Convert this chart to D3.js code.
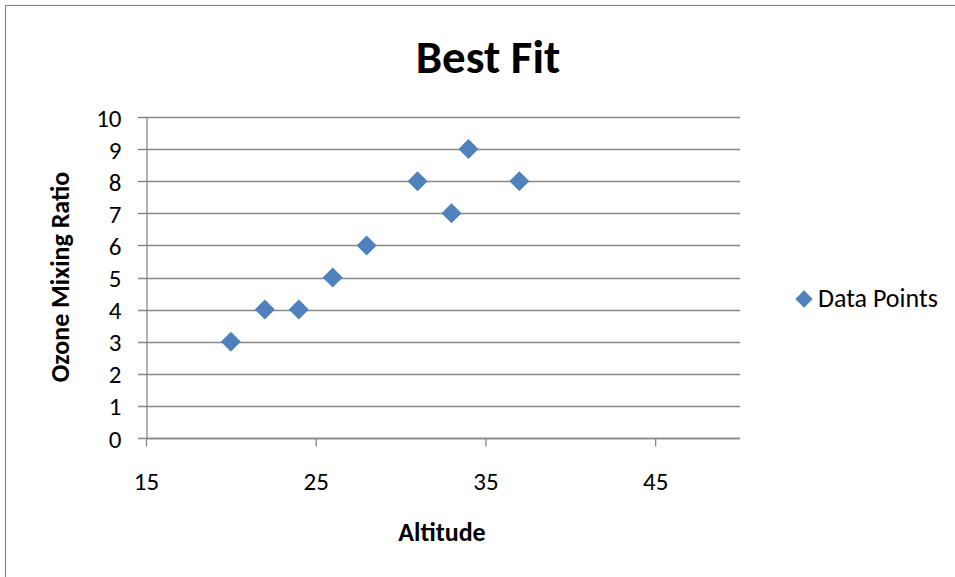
<!DOCTYPE html>
<html><head><meta charset="utf-8">
<script src="https://cdn.jsdelivr.net/npm/d3@7"></script>
<style>body{margin:0;background:#fff}svg{display:block}text{font-family:Carlito,"Open Sans","Noto Sans",sans-serif}</style>
</head><body><svg id="c" width="955" height="577"></svg>
<script>
const altitude = [20, 22, 24, 26, 28, 31, 33, 34, 37];
const ozone = [3, 4, 4, 5, 6, 8, 7, 9, 8];
const xTicks = [15, 25, 35, 45];
const yTicks = [0,1,2,3,4,5,6,7,8,9,10];
const title = "Best Fit", xLabel = "Altitude", yLabel = "Ozone Mixing Ratio", seriesName = "Data Points";

const svg = d3.select("#c");
const grid = "#878787", col = "#4F81BD";
svg.append("rect").attr("x",5.5).attr("y",5.5).attr("width",960).attr("height",600).attr("fill","#fff").attr("stroke","#888").attr("stroke-width",1.2);

const x = d3.scaleLinear().domain([15,50]).range([146,740]);
const y = d3.scaleLinear().domain([0,10]).range([438,117]);

// gridlines
svg.append("g").selectAll("line").data(yTicks).join("line")
  .attr("x1",138).attr("x2",740).attr("y1",d=>Math.round(y(d))+0.5).attr("y2",d=>Math.round(y(d))+0.5)
  .attr("stroke",grid).attr("stroke-width",1.3);

const yAx = svg.append("g").attr("transform","translate(146.5,0)")
  .call(d3.axisLeft(y).tickValues(yTicks).tickSize(0).tickPadding(25));
yAx.select(".domain").attr("stroke",grid).attr("stroke-width",1.3);
yAx.selectAll("text").attr("font-size",25).attr("fill","#000").attr("dy","0.36em");

const xAx = svg.append("g").attr("transform","translate(0,"+(Math.round(y(0))+0.5)+")")
  .call(d3.axisBottom(x).tickValues(xTicks).tickSize(8).tickPadding(26));
xAx.select(".domain").attr("stroke",grid).attr("stroke-width",1.3).attr("d","M146,0H740");
xAx.selectAll("line").attr("stroke",grid).attr("stroke-width",1.3);
xAx.selectAll("text").attr("font-size",25).attr("fill","#000");

const diamond = d3.symbol().type(d3.symbolSquare).size(200);
svg.append("g").selectAll("path").data(altitude.map((a,i)=>[a,ozone[i]])).join("path")
  .attr("d",diamond).attr("fill",col)
  .attr("transform",d=>`translate(${x(d[0])},${y(d[1])}) rotate(45)`);

svg.append("text").attr("x",488).attr("y",73).attr("text-anchor","middle")
  .attr("font-size",47).attr("font-weight","bold").text(title);
svg.append("text").attr("x",442).attr("y",541).attr("text-anchor","middle")
  .attr("font-size",26).attr("font-weight","bold").text(xLabel);
svg.append("text").attr("transform","translate(69,277) rotate(-90)").attr("text-anchor","middle")
  .attr("font-size",26).attr("font-weight","bold").text(yLabel);

svg.append("path").attr("d",d3.symbol().type(d3.symbolSquare).size(150)).attr("fill",col)
  .attr("transform","translate(804,299) rotate(45)");
svg.append("text").attr("x",818).attr("y",307).attr("font-size",26).text(seriesName);
</script></body></html>
